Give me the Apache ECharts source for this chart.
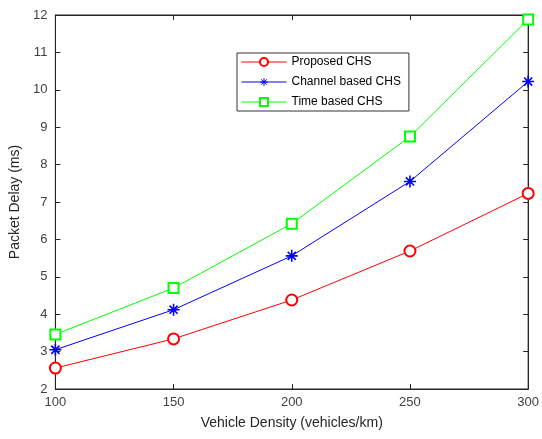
<!DOCTYPE html>
<html>
<head>
<meta charset="utf-8">
<script src="https://cdn.jsdelivr.net/npm/echarts@6/dist/echarts.min.js"></script>
<style>
  html, body { margin: 0; padding: 0; background: #fff; }
</style>
</head>
<body>
<div id="main" style="width:542px;height:439px;"></div>
<script>
// vehicle density (vehicles/km)
var density = [100, 150, 200, 250, 300];
// packet delay (ms)
var proposedCHS = [2.56, 3.34, 4.38, 5.69, 7.23];
var channelCHS = [3.05, 4.12, 5.56, 7.55, 10.22];
var timeCHS = [3.46, 4.70, 6.42, 8.75, 11.88];
var seriesNames = ['Proposed CHS', 'Channel based CHS', 'Time based CHS'];

var asterisk = 'path://M5 0L5 10M0 5L10 5M1.6 1.6L8.4 8.4M8.4 1.6L1.6 8.4';

function pairs(ys) {
    return density.map(function (x, i) { return [x, ys[i]]; });
}

var font = 'Liberation Sans, Arial, Helvetica, sans-serif';
var chart = echarts.init(document.getElementById('main'));

chart.setOption({
    animation: false,
    textStyle: { fontFamily: font },
    grid: {
        left: 54, right: 12, top: 15, bottom: 50,
        show: true, borderColor: '#262626', borderWidth: 1
    },
    legend: {
        orient: 'vertical',
        left: 237, top: 53,
        itemWidth: 45, itemHeight: 10, itemGap: 8,
        padding: [3, 8, 3, 4],
        backgroundColor: '#fff',
        borderColor: '#333', borderWidth: 1,
        lineStyle: { width: 1 },
        itemStyle: { borderWidth: 1 },
        textStyle: { fontSize: 12, color: '#000', fontFamily: font },
        data: seriesNames
    },
    xAxis: [{
        type: 'value', min: 100, max: 300, interval: 50,
        name: 'Vehicle Density (vehicles/km)',
        nameLocation: 'middle', nameGap: 27,
        nameTextStyle: { fontSize: 14, color: '#262626' },
        axisLine: { show: true, lineStyle: { color: '#262626' } },
        axisTick: { inside: true, length: 5, lineStyle: { color: '#262626' } },
        axisLabel: { fontSize: 13, color: '#404040', margin: 7 },
        splitLine: { show: false }
    }, {
        type: 'value', min: 100, max: 300, interval: 50, position: 'top',
        axisLine: { show: true, lineStyle: { color: '#262626' } },
        axisTick: { inside: true, length: 5, lineStyle: { color: '#262626' } },
        axisLabel: { show: false },
        splitLine: { show: false }
    }],
    yAxis: [{
        type: 'value', min: 2, max: 12, interval: 1,
        name: 'Packet Delay (ms)',
        nameLocation: 'middle', nameGap: 29,
        nameTextStyle: { fontSize: 14, color: '#262626' },
        axisLine: { show: true, lineStyle: { color: '#262626' } },
        axisTick: { inside: true, length: 5, lineStyle: { color: '#262626' } },
        axisLabel: { fontSize: 13, color: '#404040', margin: 8 },
        splitLine: { show: false }
    }, {
        type: 'value', min: 2, max: 12, interval: 1, position: 'right',
        axisLine: { show: true, lineStyle: { color: '#262626' } },
        axisTick: { inside: true, length: 5, lineStyle: { color: '#262626' } },
        axisLabel: { show: false },
        splitLine: { show: false }
    }],
    series: [{
        name: seriesNames[0], type: 'line',
        data: pairs(proposedCHS),
        symbol: 'emptyCircle', symbolSize: 11,
        lineStyle: { color: '#ff0000', width: 1 },
        itemStyle: { color: '#ff0000', borderColor: '#ff0000', borderWidth: 1 }
    }, {
        name: seriesNames[1], type: 'line',
        data: pairs(channelCHS),
        symbol: asterisk, symbolSize: 12,
        lineStyle: { color: '#0000ff', width: 1 },
        itemStyle: { color: '#0000ff', borderColor: '#0000ff', borderWidth: 1.6 }
    }, {
        name: seriesNames[2], type: 'line',
        data: pairs(timeCHS),
        symbol: 'emptyRect', symbolSize: 10,
        lineStyle: { color: '#00ff00', width: 1 },
        itemStyle: { color: '#00ff00', borderColor: '#00ff00', borderWidth: 1 }
    }]
});
</script>
</body>
</html>
